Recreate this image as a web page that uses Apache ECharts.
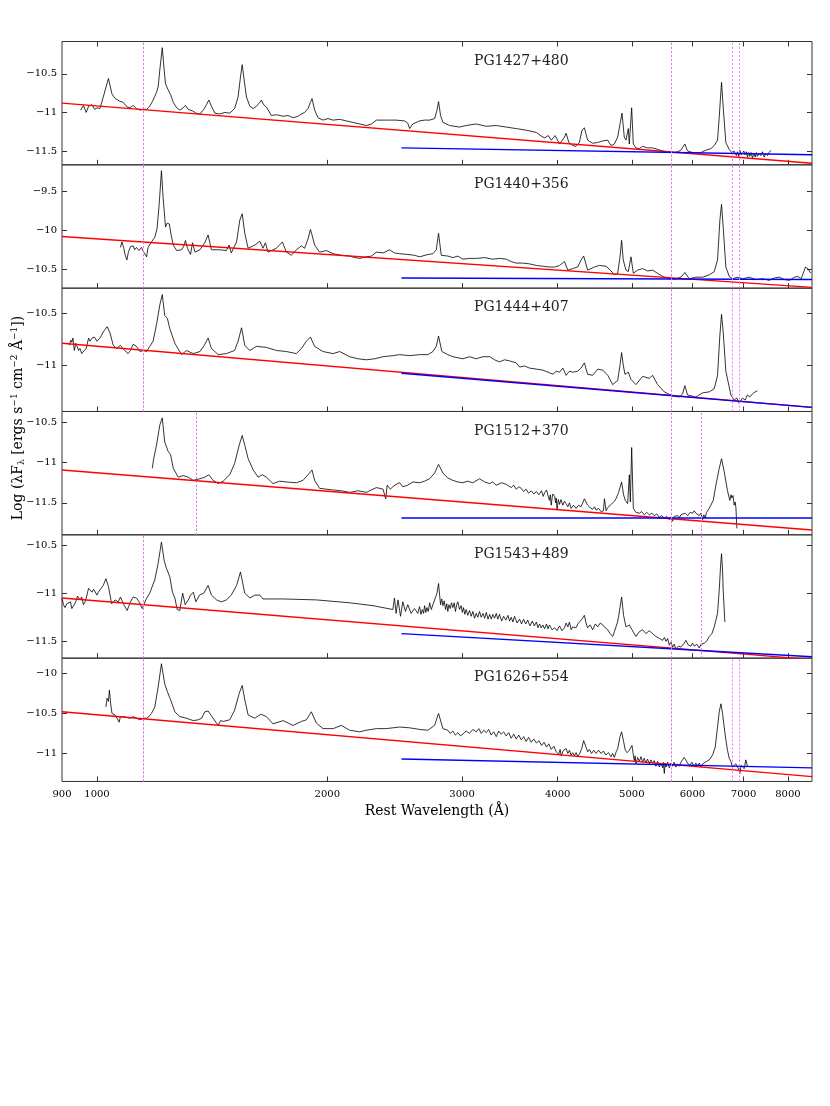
<!DOCTYPE html>
<html><head><meta charset="utf-8">
<script src="https://cdn.jsdelivr.net/npm/echarts@6/dist/echarts.min.js"></script>
<style>html,body{margin:0;padding:0;background:#fff}#c{width:830px;height:1106px}</style>
</head><body><div id="c"></div>
<script>
// ---------------- DATA ----------------
const names = ['PG1427+480','PG1440+356','PG1444+407','PG1512+370','PG1543+489','PG1626+554'];
const xTickVals = [1000,2000,3000,4000,5000,6000,7000,8000];
const xLabelVals = [900,1000,2000,3000,4000,5000,6000,7000,8000];
const xRange = [900, 8600];
const yRanges = [[-11.68,-10.08],[-10.74,-9.165],[-11.45,-10.257],[-11.90,-10.36],[-11.675,-10.394],[-11.35,-9.81]];
const yTicks = [[-11.5,-11,-10.5],[-10.5,-10,-9.5],[-11,-10.5],[-11.5,-11,-10.5],[-11.5,-11,-10.5],[-11,-10.5,-10]];
// red power law: flux at 900 and at 8600
const redFit = [[-10.88,-11.66],[-10.08,-10.73],[-10.79,-11.41],[-11.09,-11.84],[-11.05,-11.69],[-10.48,-11.29]];
// blue fit: flux at 2500 and at 8600
const blueStart = 2500;
const blueFit = [[-11.46,-11.55],[-10.61,-10.63],[-11.08,-11.41],[-11.69,-11.69],[-11.42,-11.66],[-11.07,-11.18]];
// dotted marker wavelengths
const marks = [
  [1146,1157,5596,5657,6812,6915],
  [1146,1157,5596,5657,6812,6915],
  [1146,1157,5596,5657,6812,6915],
  [1349,1358,5596,5657,6206],
  [1146,1157,5596,5657,6206],
  [1146,1157,5596,5657,6812,6915]
];

const spec1 = [[952,-10.97],[960,-10.91],[968,-11.00],[975,-10.92],[985,-10.90],[993,-10.96],[1000,-10.94],[1009,-10.95],[1019,-10.80],[1035,-10.56],[1046,-10.76],[1056,-10.82],[1069,-10.85],[1082,-10.87],[1095,-10.93],[1104,-10.94],[1115,-10.91],[1126,-10.95],[1138,-10.97],[1149,-10.96],[1161,-10.96],[1172,-10.92],[1184,-10.84],[1196,-10.74],[1202,-10.67],[1208,-10.45],[1217,-10.16],[1224,-10.45],[1229,-10.63],[1239,-10.71],[1248,-10.77],[1258,-10.87],[1271,-10.94],[1283,-10.97],[1296,-10.94],[1305,-10.91],[1316,-10.96],[1333,-10.98],[1347,-11.01],[1363,-11.02],[1379,-10.96],[1390,-10.90],[1400,-10.84],[1411,-10.92],[1426,-11.01],[1447,-11.02],[1469,-11.00],[1491,-11.01],[1513,-10.95],[1529,-10.80],[1540,-10.54],[1548,-10.38],[1557,-10.58],[1568,-10.80],[1584,-10.92],[1600,-10.95],[1616,-10.92],[1632,-10.87],[1640,-10.84],[1651,-10.90],[1665,-10.93],[1690,-11.04],[1716,-11.03],[1751,-11.05],[1777,-11.04],[1804,-11.07],[1831,-11.05],[1850,-11.02],[1868,-11.00],[1887,-10.95],[1901,-10.87],[1910,-10.82],[1925,-10.97],[1945,-11.07],[1974,-11.10],[2004,-11.08],[2035,-11.10],[2076,-11.09],[2118,-11.11],[2160,-11.13],[2205,-11.15],[2249,-11.17],[2284,-11.15],[2318,-11.10],[2365,-11.10],[2412,-11.10],[2460,-11.10],[2523,-11.11],[2548,-11.14],[2562,-11.21],[2587,-11.15],[2640,-11.11],[2680,-11.10],[2721,-11.10],[2762,-11.08],[2782,-10.97],[2795,-10.86],[2812,-11.04],[2832,-11.13],[2889,-11.17],[2977,-11.19],[3037,-11.17],[3130,-11.15],[3227,-11.18],[3325,-11.17],[3427,-11.19],[3531,-11.21],[3638,-11.23],[3752,-11.26],[3811,-11.31],[3848,-11.33],[3888,-11.30],[3924,-11.36],[3970,-11.30],[4023,-11.41],[4083,-11.32],[4103,-11.27],[4137,-11.39],[4186,-11.43],[4228,-11.44],[4270,-11.39],[4304,-11.23],[4335,-11.20],[4378,-11.36],[4445,-11.40],[4513,-11.39],[4582,-11.37],[4651,-11.36],[4697,-11.43],[4744,-11.41],[4792,-11.32],[4826,-11.15],[4855,-11.01],[4888,-11.32],[4913,-11.36],[4948,-11.21],[4963,-11.41],[4998,-10.94],[5023,-11.41],[5063,-11.46],[5115,-11.47],[5165,-11.44],[5243,-11.46],[5323,-11.46],[5404,-11.48],[5486,-11.50],[5597,-11.52],[5710,-11.52],[5796,-11.49],[5866,-11.41],[5913,-11.50],[6003,-11.52],[6125,-11.53],[6249,-11.49],[6344,-11.47],[6408,-11.43],[6472,-11.36],[6505,-11.06],[6550,-10.61],[6583,-10.93],[6636,-11.39],[6703,-11.48],[6770,-11.53],[6800,-11.50],[6825,-11.48],[6850,-11.56],[6873,-11.51],[6900,-11.57],[6921,-11.49],[6950,-11.55],[6977,-11.57],[7005,-11.50],[7033,-11.55],[7060,-11.51],[7082,-11.58],[7110,-11.52],[7133,-11.57],[7160,-11.52],[7190,-11.59],[7220,-11.53],[7248,-11.58],[7275,-11.52],[7298,-11.57],[7335,-11.53],[7373,-11.56],[7410,-11.51],[7448,-11.58],[7485,-11.53],[7522,-11.56],[7560,-11.52],[7598,-11.49]];

const spec2 = [[1073,-10.22],[1078,-10.15],[1084,-10.23],[1088,-10.31],[1094,-10.38],[1099,-10.28],[1106,-10.21],[1115,-10.20],[1120,-10.25],[1126,-10.22],[1135,-10.26],[1143,-10.22],[1151,-10.28],[1161,-10.34],[1166,-10.22],[1178,-10.15],[1190,-10.09],[1198,-9.98],[1206,-9.66],[1214,-9.24],[1220,-9.58],[1229,-9.96],[1235,-9.91],[1243,-9.92],[1250,-10.06],[1258,-10.19],[1271,-10.26],[1290,-10.25],[1299,-10.20],[1305,-10.13],[1313,-10.23],[1325,-10.31],[1333,-10.16],[1343,-10.28],[1363,-10.25],[1383,-10.16],[1397,-10.06],[1411,-10.25],[1447,-10.25],[1476,-10.26],[1488,-10.19],[1498,-10.29],[1522,-10.15],[1537,-9.87],[1548,-9.79],[1560,-10.04],[1576,-10.23],[1608,-10.19],[1632,-10.14],[1648,-10.23],[1660,-10.16],[1673,-10.28],[1716,-10.23],[1747,-10.15],[1768,-10.28],[1795,-10.32],[1822,-10.25],[1850,-10.20],[1868,-10.23],[1887,-10.11],[1901,-9.99],[1910,-10.06],[1925,-10.19],[1954,-10.28],[1994,-10.26],[2035,-10.30],[2086,-10.32],[2139,-10.33],[2172,-10.35],[2205,-10.36],[2249,-10.34],[2284,-10.33],[2318,-10.28],[2365,-10.29],[2412,-10.25],[2448,-10.29],[2486,-10.30],[2548,-10.31],[2600,-10.32],[2640,-10.34],[2707,-10.31],[2748,-10.30],[2776,-10.25],[2795,-10.04],[2818,-10.32],[2874,-10.33],[2918,-10.35],[2962,-10.33],[3007,-10.37],[3068,-10.36],[3130,-10.36],[3211,-10.35],[3291,-10.37],[3358,-10.36],[3427,-10.37],[3478,-10.40],[3531,-10.42],[3602,-10.42],[3675,-10.43],[3752,-10.45],[3825,-10.46],[3902,-10.47],[3964,-10.47],[4023,-10.45],[4083,-10.40],[4124,-10.51],[4186,-10.49],[4249,-10.47],[4292,-10.38],[4326,-10.33],[4378,-10.51],[4468,-10.47],[4535,-10.45],[4628,-10.46],[4697,-10.52],[4744,-10.57],[4792,-10.55],[4826,-10.34],[4849,-10.13],[4873,-10.38],[4913,-10.51],[4948,-10.53],[4988,-10.34],[5023,-10.55],[5089,-10.51],[5165,-10.49],[5243,-10.52],[5323,-10.51],[5404,-10.55],[5486,-10.59],[5597,-10.62],[5710,-10.62],[5796,-10.60],[5866,-10.54],[5943,-10.62],[6063,-10.60],[6187,-10.60],[6312,-10.57],[6408,-10.53],[6472,-10.38],[6518,-9.87],[6550,-9.67],[6583,-9.96],[6636,-10.47],[6703,-10.59],[6770,-10.62],[6873,-10.60],[6977,-10.62],[7118,-10.60],[7262,-10.63],[7410,-10.62],[7560,-10.64],[7676,-10.61],[7794,-10.60],[7914,-10.63],[8035,-10.64],[8158,-10.60],[8241,-10.59],[8324,-10.62],[8433,-10.47],[8492,-10.49],[8569,-10.55]];

const spec3 = [[920,-10.81],[924,-10.76],[927,-10.78],[930,-10.74],[934,-10.86],[938,-10.79],[942,-10.82],[946,-10.86],[950,-10.84],[955,-10.89],[960,-10.90],[968,-10.84],[975,-10.74],[979,-10.77],[985,-10.74],[992,-10.73],[1000,-10.77],[1009,-10.74],[1019,-10.68],[1031,-10.63],[1040,-10.69],[1050,-10.81],[1061,-10.84],[1073,-10.81],[1087,-10.86],[1098,-10.89],[1106,-10.86],[1115,-10.80],[1126,-10.82],[1138,-10.87],[1149,-10.86],[1161,-10.87],[1172,-10.82],[1184,-10.77],[1196,-10.61],[1208,-10.42],[1217,-10.32],[1226,-10.52],[1236,-10.55],[1245,-10.65],[1264,-10.79],[1290,-10.90],[1309,-10.86],[1336,-10.89],[1363,-10.87],[1381,-10.81],[1397,-10.74],[1411,-10.84],[1440,-10.90],[1476,-10.89],[1513,-10.86],[1529,-10.77],[1545,-10.64],[1560,-10.81],[1584,-10.86],[1616,-10.82],[1665,-10.83],[1716,-10.86],[1768,-10.87],[1822,-10.89],[1850,-10.84],[1878,-10.77],[1901,-10.73],[1925,-10.82],[1974,-10.87],[2035,-10.89],[2076,-10.87],[2139,-10.92],[2194,-10.94],[2249,-10.95],[2307,-10.94],[2365,-10.92],[2436,-10.91],[2486,-10.90],[2562,-10.91],[2640,-10.90],[2707,-10.90],[2748,-10.87],[2776,-10.82],[2795,-10.72],[2823,-10.87],[2874,-10.90],[2918,-10.92],[3007,-10.94],[3068,-10.92],[3130,-10.94],[3195,-10.92],[3260,-10.92],[3308,-10.95],[3358,-10.97],[3410,-10.95],[3460,-10.96],[3531,-10.98],[3567,-11.02],[3620,-11.01],[3675,-11.03],[3752,-11.04],[3825,-11.05],[3888,-11.07],[3944,-11.09],[3983,-11.06],[4023,-11.07],[4063,-11.03],[4103,-11.10],[4145,-11.06],[4186,-11.07],[4249,-11.06],[4292,-11.03],[4335,-10.98],[4378,-11.09],[4445,-11.10],[4513,-11.04],[4582,-11.05],[4651,-11.10],[4720,-11.19],[4792,-11.15],[4826,-11.00],[4849,-10.88],[4873,-11.00],[4898,-11.09],[4948,-11.07],[4988,-11.14],[5063,-11.19],[5165,-11.11],[5270,-11.13],[5323,-11.10],[5404,-11.19],[5514,-11.26],[5653,-11.30],[5767,-11.31],[5825,-11.28],[5866,-11.20],[5913,-11.29],[6063,-11.31],[6187,-11.27],[6312,-11.26],[6408,-11.23],[6472,-11.10],[6518,-10.71],[6550,-10.51],[6583,-10.68],[6636,-11.06],[6737,-11.29],[6804,-11.34],[6860,-11.32],[6907,-11.37],[6977,-11.32],[7033,-11.34],[7082,-11.29],[7133,-11.31],[7190,-11.28],[7248,-11.26],[7298,-11.25]];

const spec4 = [[1181,-11.07],[1186,-10.95],[1196,-10.78],[1208,-10.53],[1217,-10.44],[1226,-10.74],[1239,-10.86],[1248,-10.90],[1258,-11.07],[1277,-11.18],[1296,-11.16],[1316,-11.18],[1336,-11.22],[1363,-11.20],[1383,-11.18],[1400,-11.15],[1418,-11.22],[1440,-11.26],[1462,-11.23],[1491,-11.15],[1513,-11.01],[1534,-10.78],[1548,-10.66],[1560,-10.78],[1576,-10.95],[1600,-11.09],[1624,-11.18],[1644,-11.15],[1665,-11.18],[1698,-11.26],[1733,-11.23],[1768,-11.24],[1822,-11.25],[1859,-11.22],[1887,-11.15],[1910,-11.09],[1925,-11.22],[1954,-11.32],[1994,-11.33],[2035,-11.34],[2086,-11.35],[2139,-11.37],[2194,-11.35],[2249,-11.37],[2318,-11.31],[2365,-11.33],[2384,-11.45],[2395,-11.28],[2417,-11.33],[2436,-11.30],[2460,-11.27],[2486,-11.25],[2510,-11.30],[2548,-11.28],[2587,-11.24],[2640,-11.25],[2680,-11.23],[2721,-11.20],[2762,-11.13],[2795,-11.02],[2832,-11.13],[2874,-11.19],[2918,-11.22],[2962,-11.24],[3007,-11.25],[3050,-11.23],[3099,-11.25],[3162,-11.20],[3211,-11.24],[3260,-11.26],[3290,-11.24],[3325,-11.28],[3380,-11.25],[3427,-11.27],[3478,-11.31],[3505,-11.28],[3531,-11.33],[3560,-11.30],[3585,-11.32],[3610,-11.36],[3638,-11.33],[3665,-11.38],[3694,-11.35],[3722,-11.39],[3752,-11.36],[3780,-11.40],[3811,-11.35],[3830,-11.42],[3848,-11.37],[3868,-11.34],[3888,-11.32],[3902,-11.47],[3913,-11.40],[3924,-11.53],[3935,-11.43],[3944,-11.39],[3964,-11.42],[3975,-11.50],[3983,-11.44],[3993,-11.59],[4008,-11.46],[4023,-11.52],[4040,-11.46],[4063,-11.53],[4083,-11.48],[4103,-11.51],[4125,-11.55],[4145,-11.50],[4166,-11.57],[4197,-11.53],[4228,-11.57],[4260,-11.53],[4292,-11.55],[4335,-11.45],[4378,-11.53],[4410,-11.56],[4445,-11.58],[4470,-11.55],[4490,-11.59],[4525,-11.57],[4558,-11.61],[4590,-11.60],[4605,-11.45],[4628,-11.60],[4650,-11.56],[4673,-11.57],[4700,-11.52],[4720,-11.53],[4745,-11.48],[4768,-11.45],[4806,-11.37],[4849,-11.24],[4878,-11.40],[4903,-11.47],[4938,-11.51],[4963,-11.15],[4978,-11.49],[4998,-10.81],[5023,-11.57],[5063,-11.62],[5089,-11.60],[5115,-11.63],[5150,-11.61],[5191,-11.65],[5230,-11.62],[5270,-11.65],[5310,-11.63],[5350,-11.66],[5390,-11.64],[5431,-11.68],[5470,-11.66],[5514,-11.69],[5550,-11.67],[5597,-11.71],[5625,-11.68],[5653,-11.73],[5680,-11.67],[5710,-11.69],[5740,-11.66],[5767,-11.69],[5796,-11.65],[5825,-11.66],[5870,-11.63],[5913,-11.66],[5960,-11.62],[6003,-11.63],[6033,-11.60],[6063,-11.63],[6095,-11.61],[6125,-11.66],[6156,-11.63],[6187,-11.71],[6210,-11.65],[6237,-11.69],[6260,-11.62],[6280,-11.63],[6312,-11.57],[6344,-11.56],[6389,-11.47],[6440,-11.28],[6505,-11.07],[6550,-10.95],[6603,-11.11],[6669,-11.35],[6716,-11.47],[6740,-11.40],[6757,-11.44],[6780,-11.41],[6804,-11.53],[6825,-11.49],[6840,-11.56],[6860,-11.82]];

const spec5 = [[900,-11.05],[904,-11.12],[908,-11.15],[913,-11.11],[918,-11.13],[923,-11.09],[927,-11.16],[934,-11.12],[939,-11.08],[943,-11.03],[947,-11.05],[950,-11.07],[955,-11.04],[960,-11.12],[965,-11.09],[968,-11.05],[975,-10.95],[979,-10.97],[985,-10.99],[990,-10.96],[993,-10.97],[1000,-11.02],[1004,-10.99],[1009,-10.97],[1019,-10.92],[1027,-10.85],[1035,-10.93],[1045,-11.11],[1056,-11.07],[1066,-11.09],[1073,-11.04],[1084,-11.12],[1095,-11.18],[1106,-11.09],[1115,-11.04],[1126,-11.05],[1135,-11.09],[1146,-11.16],[1158,-11.07],[1172,-11.00],[1190,-10.86],[1202,-10.69],[1214,-10.47],[1224,-10.66],[1232,-10.74],[1245,-10.83],[1255,-10.99],[1264,-11.05],[1273,-11.17],[1283,-11.18],[1294,-11.00],[1304,-11.12],[1316,-11.07],[1325,-11.02],[1336,-10.99],[1347,-11.09],[1361,-11.02],[1379,-11.00],[1397,-10.92],[1411,-11.02],[1433,-11.07],[1454,-11.09],[1476,-11.07],[1498,-11.02],[1522,-10.92],[1540,-10.78],[1560,-11.00],[1584,-11.05],[1608,-11.02],[1632,-11.02],[1648,-11.06],[1751,-11.06],[1935,-11.07],[2139,-11.10],[2295,-11.13],[2436,-11.17],[2448,-11.05],[2460,-11.21],[2474,-11.07],[2493,-11.24],[2510,-11.09],[2530,-11.19],[2548,-11.12],[2574,-11.21],[2600,-11.16],[2626,-11.21],[2640,-11.14],[2651,-11.22],[2662,-11.17],[2672,-11.21],[2680,-11.13],[2690,-11.20],[2699,-11.15],[2710,-11.19],[2721,-11.10],[2735,-11.17],[2748,-11.12],[2762,-11.10],[2782,-11.00],[2795,-10.90],[2812,-11.12],[2822,-11.06],[2832,-11.13],[2843,-11.08],[2855,-11.17],[2865,-11.11],[2874,-11.19],[2884,-11.12],[2895,-11.16],[2906,-11.10],[2918,-11.15],[2930,-11.10],[2941,-11.19],[2952,-11.12],[2962,-11.09],[2977,-11.17],[2992,-11.13],[3003,-11.20],[3013,-11.15],[3025,-11.22],[3037,-11.17],[3052,-11.23],[3068,-11.18],[3084,-11.24],[3099,-11.19],[3115,-11.26],[3130,-11.21],[3146,-11.25],[3162,-11.19],[3178,-11.25],[3195,-11.21],[3211,-11.26],[3227,-11.20],[3244,-11.27],[3260,-11.22],[3276,-11.27],[3291,-11.22],[3308,-11.26],[3325,-11.21],[3341,-11.27],[3358,-11.22],[3380,-11.29],[3400,-11.24],[3422,-11.28],[3444,-11.23],[3461,-11.29],[3478,-11.25],[3496,-11.30],[3513,-11.24],[3540,-11.31],[3567,-11.27],[3588,-11.32],[3610,-11.27],[3633,-11.32],[3656,-11.28],[3680,-11.34],[3706,-11.29],[3730,-11.34],[3752,-11.30],[3770,-11.36],[3788,-11.32],[3806,-11.36],[3825,-11.33],[3846,-11.37],[3868,-11.32],[3885,-11.37],[3902,-11.33],[3933,-11.38],[3964,-11.36],[3993,-11.39],[4023,-11.34],[4053,-11.39],[4083,-11.36],[4103,-11.31],[4125,-11.35],[4145,-11.30],[4166,-11.38],[4186,-11.35],[4207,-11.33],[4228,-11.36],[4250,-11.32],[4270,-11.34],[4304,-11.27],[4335,-11.23],[4357,-11.31],[4378,-11.36],[4410,-11.33],[4445,-11.38],[4480,-11.32],[4513,-11.35],[4548,-11.31],[4582,-11.33],[4616,-11.36],[4651,-11.38],[4685,-11.42],[4720,-11.45],[4745,-11.40],[4768,-11.38],[4790,-11.30],[4806,-11.24],[4849,-11.04],[4878,-11.23],[4913,-11.35],[4963,-11.33],[5003,-11.38],[5063,-11.45],[5115,-11.40],[5165,-11.38],[5217,-11.42],[5270,-11.39],[5323,-11.42],[5377,-11.45],[5431,-11.47],[5486,-11.49],[5515,-11.46],[5542,-11.50],[5570,-11.47],[5597,-11.54],[5625,-11.51],[5653,-11.56],[5680,-11.53],[5710,-11.58],[5756,-11.55],[5796,-11.56],[5854,-11.52],[5884,-11.49],[5930,-11.54],[5973,-11.55],[6003,-11.52],[6033,-11.55],[6080,-11.53],[6125,-11.57],[6160,-11.53],[6187,-11.55],[6218,-11.52],[6262,-11.50],[6312,-11.45],[6363,-11.42],[6408,-11.35],[6440,-11.28],[6472,-11.21],[6505,-10.97],[6531,-10.72],[6550,-10.59],[6570,-10.76],[6583,-10.97],[6616,-11.30]];

const spec6 = [[1027,-10.42],[1031,-10.31],[1035,-10.35],[1038,-10.21],[1042,-10.38],[1046,-10.50],[1050,-10.48],[1056,-10.52],[1061,-10.51],[1065,-10.58],[1069,-10.61],[1073,-10.54],[1082,-10.54],[1093,-10.55],[1104,-10.56],[1115,-10.54],[1126,-10.56],[1138,-10.58],[1149,-10.56],[1161,-10.56],[1169,-10.54],[1178,-10.50],[1190,-10.42],[1202,-10.17],[1214,-9.88],[1226,-10.13],[1236,-10.23],[1248,-10.33],[1264,-10.48],[1283,-10.54],[1309,-10.56],[1336,-10.59],[1356,-10.58],[1370,-10.56],[1383,-10.48],[1397,-10.47],[1418,-10.56],[1440,-10.65],[1450,-10.59],[1462,-10.60],[1491,-10.58],[1513,-10.46],[1534,-10.25],[1548,-10.15],[1560,-10.33],[1576,-10.52],[1608,-10.56],[1637,-10.51],[1665,-10.54],[1698,-10.63],[1751,-10.59],[1804,-10.65],[1850,-10.60],[1878,-10.58],[1906,-10.48],[1935,-10.62],[1974,-10.69],[2035,-10.69],[2086,-10.65],[2139,-10.71],[2205,-10.73],[2249,-10.71],[2318,-10.69],[2388,-10.69],[2486,-10.67],[2562,-10.68],[2640,-10.70],[2707,-10.71],[2762,-10.65],[2795,-10.50],[2832,-10.69],[2874,-10.71],[2895,-10.75],[2918,-10.72],[2940,-10.77],[2962,-10.74],[2985,-10.78],[3007,-10.76],[3037,-10.72],[3068,-10.75],[3099,-10.70],[3130,-10.73],[3155,-10.69],[3179,-10.75],[3203,-10.71],[3227,-10.74],[3250,-10.70],[3275,-10.77],[3300,-10.73],[3325,-10.79],[3350,-10.72],[3375,-10.76],[3400,-10.73],[3427,-10.78],[3452,-10.74],[3478,-10.81],[3505,-10.76],[3531,-10.82],[3558,-10.77],[3585,-10.83],[3612,-10.79],[3638,-10.85],[3665,-10.80],[3694,-10.86],[3722,-10.82],[3752,-10.87],[3781,-10.84],[3811,-10.90],[3840,-10.86],[3868,-10.92],[3896,-10.88],[3924,-10.95],[3954,-10.91],[3983,-10.98],[4013,-11.01],[4030,-10.95],[4043,-11.03],[4070,-10.96],[4103,-10.94],[4125,-11.00],[4145,-10.96],[4165,-11.02],[4186,-10.99],[4207,-11.03],[4228,-10.99],[4250,-11.04],[4270,-11.01],[4300,-10.94],[4326,-10.84],[4356,-10.92],[4378,-10.98],[4400,-10.95],[4430,-11.00],[4460,-10.96],[4490,-11.00],[4525,-10.96],[4558,-11.00],[4590,-10.97],[4628,-11.02],[4660,-10.99],[4697,-11.04],[4720,-11.00],[4744,-11.05],[4770,-10.98],[4792,-10.94],[4826,-10.79],[4849,-10.73],[4878,-10.85],[4903,-10.96],[4930,-10.99],[4963,-10.96],[5003,-10.90],[5020,-11.00],[5038,-11.09],[5050,-11.03],[5063,-11.13],[5089,-11.05],[5115,-11.10],[5140,-11.04],[5165,-11.11],[5190,-11.06],[5217,-11.12],[5243,-11.07],[5270,-11.13],[5296,-11.08],[5323,-11.12],[5350,-11.09],[5377,-11.16],[5404,-11.10],[5431,-11.17],[5459,-11.12],[5486,-11.18],[5500,-11.11],[5514,-11.25],[5528,-11.12],[5542,-11.17],[5570,-11.11],[5597,-11.18],[5625,-11.12],[5653,-11.16],[5680,-11.11],[5710,-11.17],[5739,-11.13],[5767,-11.16],[5796,-11.11],[5825,-11.09],[5854,-11.05],[5884,-11.08],[5913,-11.12],[5950,-11.15],[5991,-11.11],[6030,-11.16],[6063,-11.12],[6095,-11.16],[6125,-11.12],[6156,-11.17],[6187,-11.13],[6220,-11.14],[6262,-11.10],[6312,-11.08],[6376,-11.02],[6427,-10.92],[6472,-10.67],[6505,-10.48],[6538,-10.38],[6570,-10.50],[6603,-10.67],[6636,-10.83],[6669,-10.96],[6703,-11.06],[6737,-11.10],[6770,-11.17],[6804,-11.19],[6839,-11.13],[6873,-11.15],[6907,-11.21],[6921,-11.25],[6949,-11.15],[6977,-11.13],[7012,-11.19],[7047,-11.08],[7082,-11.16]];

const spectra = [spec1, spec2, spec3, spec4, spec5, spec6];

// ---------------- LAYOUT ----------------
const FONT = '"DejaVu Serif", serif';
const gTop = 41.5, gH = 123.33, gLeft = 62, gRight = 18;
const L = Math.log10;
const fmtY = v => (v < 0 ? '\u2212' : '') + Math.abs(v);

const grids = [], xAxes = [], yAxes = [], series = [], graphics = [];
for (let i = 0; i < 6; i++) {
  const top = gTop + i * gH;
  grids.push({left: gLeft, right: gRight, top: top, height: gH, show: true,
    borderColor: '#333', borderWidth: 1, backgroundColor: 'transparent', containLabel: false});
  const last = i === 5;
  xAxes.push({type: 'value', gridIndex: i, min: L(xRange[0]), max: L(xRange[1]), position: 'bottom',
    axisLine: {show: false}, splitLine: {show: false},
    axisTick: {show: true, inside: true, length: 5, lineStyle: {color: '#333'}, customValues: xTickVals.map(L)},
    axisLabel: {show: last, margin: 8, fontFamily: FONT, fontSize: 10, color: '#000',
      customValues: xLabelVals.map(L), formatter: v => String(Math.round(Math.pow(10, v)))}});
  yAxes.push({type: 'value', gridIndex: i, min: yRanges[i][0], max: yRanges[i][1], position: 'left',
    axisLine: {show: false}, splitLine: {show: false},
    axisTick: {show: true, inside: true, length: 5, lineStyle: {color: '#333'}, customValues: yTicks[i]},
    axisLabel: {show: true, margin: 5, fontFamily: FONT, fontSize: 10, color: '#000',
      customValues: yTicks[i], formatter: fmtY}});
  yAxes.push({type: 'value', gridIndex: i, min: yRanges[i][0], max: yRanges[i][1], position: 'right',
    axisLine: {show: false}, splitLine: {show: false},
    axisTick: {show: true, inside: true, length: 5, lineStyle: {color: '#333'}, customValues: yTicks[i]},
    axisLabel: {show: false}});
  series.push({type: 'line', xAxisIndex: i, yAxisIndex: 2 * i, symbol: 'none', z: 2,
    lineStyle: {color: '#000', width: 0.8}, data: spectra[i].map(p => [L(p[0]), p[1]]),
    markLine: {silent: true, symbol: ['none', 'none'], label: {show: false},
      lineStyle: {color: '#ea6fea', width: 1, type: [2, 2]},
      data: marks[i].map(w => ({xAxis: L(w)}))}});
  series.push({type: 'line', xAxisIndex: i, yAxisIndex: 2 * i, symbol: 'none', z: 3,
    lineStyle: {color: '#ff0000', width: 1.4},
    data: [[L(xRange[0]), redFit[i][0]], [L(xRange[1]), redFit[i][1]]]});
  series.push({type: 'line', xAxisIndex: i, yAxisIndex: 2 * i, symbol: 'none', z: 4,
    lineStyle: {color: '#0000ff', width: 1.4},
    data: [[L(blueStart), blueFit[i][0]], [L(xRange[1]), blueFit[i][1]]]});
  graphics.push({type: 'text', x: 474, y: top + 19.5, z: 10,
    style: {text: names[i], font: '14px ' + FONT, fill: '#222', verticalAlign: 'middle', align: 'left'}});
}
// top ticks of first panel
xAxes.push({type: 'value', gridIndex: 0, min: L(xRange[0]), max: L(xRange[1]), position: 'top',
  axisLine: {show: false}, splitLine: {show: false},
  axisTick: {show: true, inside: true, length: 5, lineStyle: {color: '#333'}, customValues: xTickVals.map(L)},
  axisLabel: {show: false}});

graphics.push({type: 'text', x: 437, y: 811, style: {text: 'Rest Wavelength (\u00C5)', font: '14px ' + FONT,
  fill: '#000', align: 'center', verticalAlign: 'middle'}});
graphics.push({type: 'text', x: 18, y: 418, rotation: Math.PI / 2,
  style: {text: '{a|Log (\u03BBF}{s|\u03BB}{a| [ergs s}{p|\u22121}{a| cm}{p|\u22122}{a| \u00C5}{p|\u22121}{a|])}',
    align: 'center', verticalAlign: 'middle', fill: '#000',
    rich: {a: {fontFamily: FONT, fontSize: 14, fill: '#000'},
      s: {fontFamily: FONT, fontSize: 9, fill: '#000', padding: [7, 0, 0, 0]},
      p: {fontFamily: FONT, fontSize: 9, fill: '#000', padding: [0, 0, 7, 0]}}}});

const chart = echarts.init(document.getElementById('c'), null, {renderer: 'canvas'});
chart.setOption({animation: false, backgroundColor: '#fff', grid: grids, xAxis: xAxes, yAxis: yAxes,
  series: series, graphic: graphics});
</script></body></html>
